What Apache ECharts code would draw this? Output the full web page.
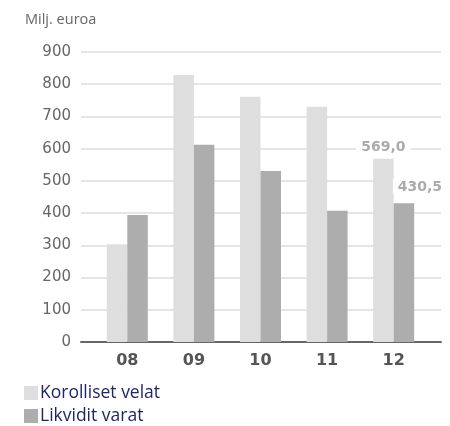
<!DOCTYPE html>
<html lang="fi">
<head>
<meta charset="UTF-8">
<title>Korolliset velat ja likvidit varat</title>
<script src="https://cdn.jsdelivr.net/npm/echarts@6/dist/echarts.min.js"></script>
<style>
  html, body { margin: 0; padding: 0; background: #fff; }
  #chart { width: 450px; height: 426px; }
</style>
</head>
<body>
<div id="chart"></div>
<script type="text/javascript">
  var years = ['08', '09', '10', '11', '12'];
  var velat = [303, 829, 761, 730, 569.0];
  var varat = [394, 612, 531, 407, 430.5];
  var yTicks = { min: 0, max: 900, step: 100 };

  function fmt(v) {
    return v.toFixed(1).replace('.', ',');
  }

  // only the last year gets a value label
  function withLabel(values, offsetX, offsetY) {
    return values.map(function (v, i) {
      if (i !== values.length - 1) return v;
      return {
        value: v,
        label: {
          show: true,
          position: 'top',
          offset: [offsetX, offsetY],
          formatter: function (p) { return fmt(p.value); },
          color: '#ababab',
          fontFamily: 'DejaVu Sans',
          fontWeight: 'bold',
          fontSize: 14,
          backgroundColor: '#fff',
          padding: [1, 5, 0, 5]
        }
      };
    });
  }

  function legendBox(name, top) {
    return {
      left: 19,
      top: top,
      icon: 'rect',
      itemWidth: 14,
      itemHeight: 14,
      itemGap: 0,
      selectedMode: false,
      textStyle: { color: '#1f2568', fontSize: 17.5, fontFamily: 'Open Sans', padding: [0, 0, 0, -3] },
      data: [name]
    };
  }

  var chart = echarts.init(document.getElementById('chart'));
  var option = {
    animation: false,
    title: {
      text: 'Milj. euroa',
      left: 20,
      top: 7,
      textStyle: { color: '#666', fontSize: 14.5, fontWeight: 'normal', fontFamily: 'Open Sans' }
    },
    legend: [
      legendBox('Korolliset velat', 379),
      legendBox('Likvidit varat', 402)
    ],
    grid: [
      { left: 81, right: 9, top: 52, bottom: 84 },
      { left: 94, right: 23, top: 52, bottom: 84 }
    ],
    xAxis: [
      {
        type: 'category',
        gridIndex: 0,
        data: [''],
        axisLine: { lineStyle: { color: '#666', width: 2 } },
        axisTick: { show: false },
        axisLabel: { show: false }
      },
      {
        type: 'category',
        gridIndex: 1,
        data: years,
        axisLine: { show: false },
        axisTick: { show: false },
        axisLabel: {
          color: '#555',
          fontSize: 16,
          fontWeight: 'bold',
          fontFamily: 'DejaVu Sans',
          margin: 11
        }
      }
    ],
    yAxis: [
      {
        type: 'value',
        gridIndex: 0,
        min: yTicks.min,
        max: yTicks.max,
        interval: yTicks.step,
        axisLine: { show: false },
        axisTick: { show: false },
        axisLabel: { color: '#666', fontSize: 15, fontFamily: 'DejaVu Sans', margin: 10 },
        splitLine: { lineStyle: { color: '#dcdcdc', width: 1.5 } }
      },
      {
        type: 'value',
        gridIndex: 1,
        min: yTicks.min,
        max: yTicks.max,
        interval: yTicks.step,
        show: false,
        splitLine: { show: false }
      }
    ],
    series: [
      {
        name: 'Korolliset velat',
        type: 'bar',
        xAxisIndex: 1,
        yAxisIndex: 1,
        barWidth: 20.5,
        barGap: '0%',
        itemStyle: { color: '#dedede' },
        data: withLabel(velat, 0, 1)
      },
      {
        name: 'Likvidit varat',
        type: 'bar',
        xAxisIndex: 1,
        yAxisIndex: 1,
        barWidth: 20.5,
        barGap: '0%',
        itemStyle: { color: '#adadad' },
        data: withLabel(varat, 16, -4)
      }
    ]
  };
  chart.setOption(option);
</script>
</body>
</html>
